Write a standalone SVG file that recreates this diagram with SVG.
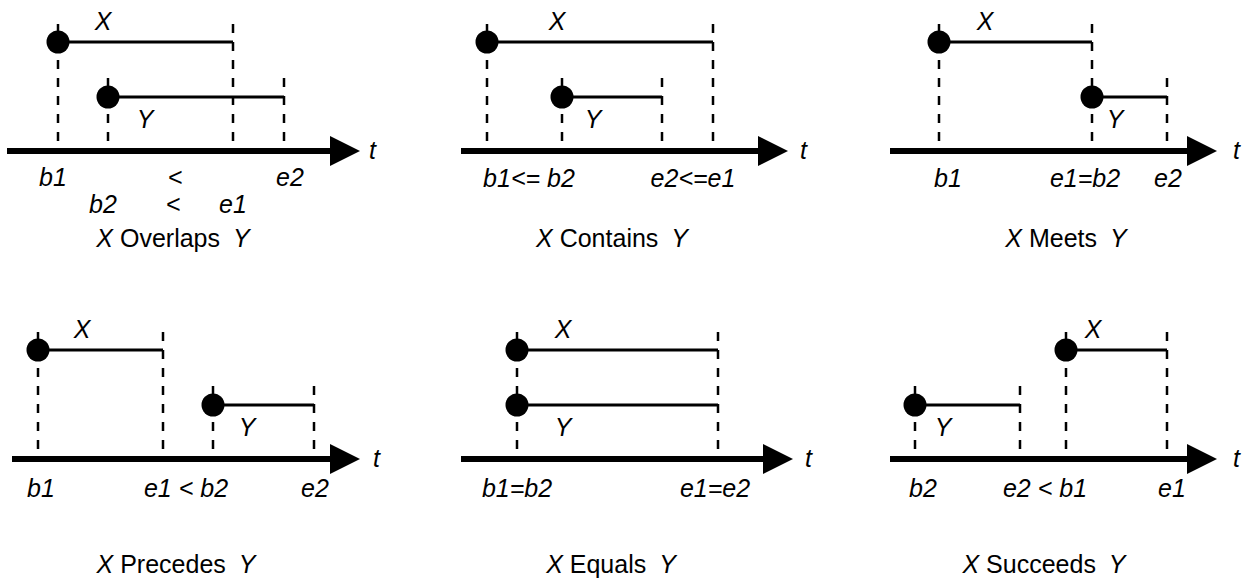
<svg xmlns="http://www.w3.org/2000/svg" width="1242" height="580" viewBox="0 0 1242 580">
<style>
.ax{stroke:#000;stroke-width:6;fill:none}
.ah{fill:#000}
.iv{stroke:#000;stroke-width:3;fill:none}
.dl{stroke:#000;stroke-width:2.5;stroke-dasharray:9 9;fill:none}
.dot{fill:#000}
text{font-family:"Liberation Sans",Arial,sans-serif;font-size:25px;fill:#000}
.i{font-style:italic}
.m{text-anchor:middle}
</style>
<rect width="1242" height="580" fill="#fff"/>

<g id="overlaps">
  <g class="connectors">
    <line class="dl" x1="58" y1="24" x2="58" y2="151"/>
    <line class="dl" x1="233" y1="24" x2="233" y2="151"/>
    <line class="dl" x1="108" y1="78" x2="108" y2="151"/>
    <line class="dl" x1="284" y1="78" x2="284" y2="151"/>
    <line class="iv" x1="58" y1="42" x2="233" y2="42"/>
    <line class="iv" x1="108" y1="97" x2="284" y2="97"/>
    <line class="ax" x1="7" y1="151" x2="335" y2="151"/>
    <polygon class="ah" points="330,136 360,151 330,166"/>
  </g>
  <circle class="dot" cx="58" cy="42" r="11.5"/>
  <circle class="dot" cx="108" cy="97" r="11.5"/>
  <text class="i m" x="103" y="30">X</text>
  <text class="i m" x="145" y="128">Y</text>
  <text class="i" x="369" y="159">t</text>
  <text class="i m" x="53" y="186">b1</text>
  <text class="i m" x="175" y="186">&lt;</text>
  <text class="i m" x="290" y="186">e2</text>
  <text class="i m" x="103" y="213">b2</text>
  <text class="i m" x="173" y="213">&lt;</text>
  <text class="i m" x="233" y="213">e1</text>
  <text class="m" x="173" y="247"><tspan class="i">X</tspan> Overlaps <tspan class="i" dx="6">Y</tspan></text>
</g>

<g id="contains">
  <g class="connectors">
    <line class="dl" x1="487" y1="24" x2="487" y2="151"/>
    <line class="dl" x1="713" y1="24" x2="713" y2="151"/>
    <line class="dl" x1="562" y1="78" x2="562" y2="151"/>
    <line class="dl" x1="662" y1="78" x2="662" y2="151"/>
    <line class="iv" x1="487" y1="42" x2="713" y2="42"/>
    <line class="iv" x1="562" y1="97" x2="662" y2="97"/>
    <line class="ax" x1="461" y1="151" x2="763" y2="151"/>
    <polygon class="ah" points="758,136 788,151 758,166"/>
  </g>
  <circle class="dot" cx="487" cy="42" r="11.5"/>
  <circle class="dot" cx="562" cy="97" r="11.5"/>
  <text class="i m" x="557" y="30">X</text>
  <text class="i m" x="593" y="128">Y</text>
  <text class="i" x="800" y="159">t</text>
  <text class="i m" x="529" y="187">b1&lt;= b2</text>
  <text class="i m" x="693" y="187">e2&lt;=e1</text>
  <text class="m" x="612" y="247"><tspan class="i">X</tspan> Contains <tspan class="i" dx="6">Y</tspan></text>
</g>

<g id="meets">
  <g class="connectors">
    <line class="dl" x1="939" y1="24" x2="939" y2="151"/>
    <line class="dl" x1="1092" y1="24" x2="1092" y2="151"/>
    <line class="dl" x1="1167" y1="78" x2="1167" y2="151"/>
    <line class="iv" x1="939" y1="42" x2="1092" y2="42"/>
    <line class="iv" x1="1092" y1="97" x2="1167" y2="97"/>
    <line class="ax" x1="890" y1="151" x2="1192" y2="151"/>
    <polygon class="ah" points="1187,136 1217,151 1187,166"/>
  </g>
  <circle class="dot" cx="939" cy="42" r="11.5"/>
  <circle class="dot" cx="1092" cy="97" r="11.5"/>
  <text class="i m" x="985" y="30">X</text>
  <text class="i m" x="1115" y="128">Y</text>
  <text class="i" x="1233" y="159">t</text>
  <text class="i m" x="948" y="187">b1</text>
  <text class="i m" x="1085" y="187">e1=b2</text>
  <text class="i m" x="1168" y="187">e2</text>
  <text class="m" x="1066" y="247"><tspan class="i">X</tspan> Meets <tspan class="i" dx="6">Y</tspan></text>
</g>

<g id="precedes">
  <g class="connectors">
    <line class="dl" x1="38" y1="332" x2="38" y2="459"/>
    <line class="dl" x1="163" y1="332" x2="163" y2="459"/>
    <line class="dl" x1="213" y1="386" x2="213" y2="459"/>
    <line class="dl" x1="314" y1="386" x2="314" y2="459"/>
    <line class="iv" x1="38" y1="350" x2="163" y2="350"/>
    <line class="iv" x1="213" y1="405" x2="314" y2="405"/>
    <line class="ax" x1="12" y1="459" x2="335" y2="459"/>
    <polygon class="ah" points="330,444 360,459 330,474"/>
  </g>
  <circle class="dot" cx="38" cy="350" r="11.5"/>
  <circle class="dot" cx="213" cy="405" r="11.5"/>
  <text class="i m" x="82" y="338">X</text>
  <text class="i m" x="247" y="436">Y</text>
  <text class="i" x="373" y="467">t</text>
  <text class="i m" x="41" y="497">b1</text>
  <text class="i m" x="186" y="497">e1 &lt; b2</text>
  <text class="i m" x="315" y="497">e2</text>
  <text class="m" x="176" y="573"><tspan class="i">X</tspan> Precedes <tspan class="i" dx="6">Y</tspan></text>
</g>

<g id="equals">
  <g class="connectors">
    <line class="dl" x1="517" y1="332" x2="517" y2="459"/>
    <line class="dl" x1="718" y1="332" x2="718" y2="459"/>
    <line class="iv" x1="517" y1="350" x2="718" y2="350"/>
    <line class="iv" x1="517" y1="405" x2="718" y2="405"/>
    <line class="ax" x1="461" y1="459" x2="768" y2="459"/>
    <polygon class="ah" points="763,444 793,459 763,474"/>
  </g>
  <circle class="dot" cx="517" cy="350" r="11.5"/>
  <circle class="dot" cx="517" cy="405" r="11.5"/>
  <text class="i m" x="563" y="338">X</text>
  <text class="i m" x="563" y="436">Y</text>
  <text class="i" x="805" y="467">t</text>
  <text class="i m" x="517" y="497">b1=b2</text>
  <text class="i m" x="715" y="497">e1=e2</text>
  <text class="m" x="611" y="573"><tspan class="i">X</tspan> Equals <tspan class="i" dx="6">Y</tspan></text>
</g>

<g id="succeeds">
  <g class="connectors">
    <line class="dl" x1="1066" y1="332" x2="1066" y2="459"/>
    <line class="dl" x1="1167" y1="332" x2="1167" y2="459"/>
    <line class="dl" x1="915" y1="386" x2="915" y2="459"/>
    <line class="dl" x1="1020" y1="386" x2="1020" y2="459"/>
    <line class="iv" x1="1066" y1="350" x2="1167" y2="350"/>
    <line class="iv" x1="915" y1="405" x2="1020" y2="405"/>
    <line class="ax" x1="890" y1="459" x2="1192" y2="459"/>
    <polygon class="ah" points="1187,444 1217,459 1187,474"/>
  </g>
  <circle class="dot" cx="1066" cy="350" r="11.5"/>
  <circle class="dot" cx="915" cy="405" r="11.5"/>
  <text class="i m" x="1093" y="338">X</text>
  <text class="i m" x="943" y="436">Y</text>
  <text class="i" x="1233" y="467">t</text>
  <text class="i m" x="923" y="497">b2</text>
  <text class="i m" x="1045" y="497">e2 &lt; b1</text>
  <text class="i m" x="1172" y="497">e1</text>
  <text class="m" x="1044" y="573"><tspan class="i">X</tspan> Succeeds <tspan class="i" dx="6">Y</tspan></text>
</g>
</svg>
